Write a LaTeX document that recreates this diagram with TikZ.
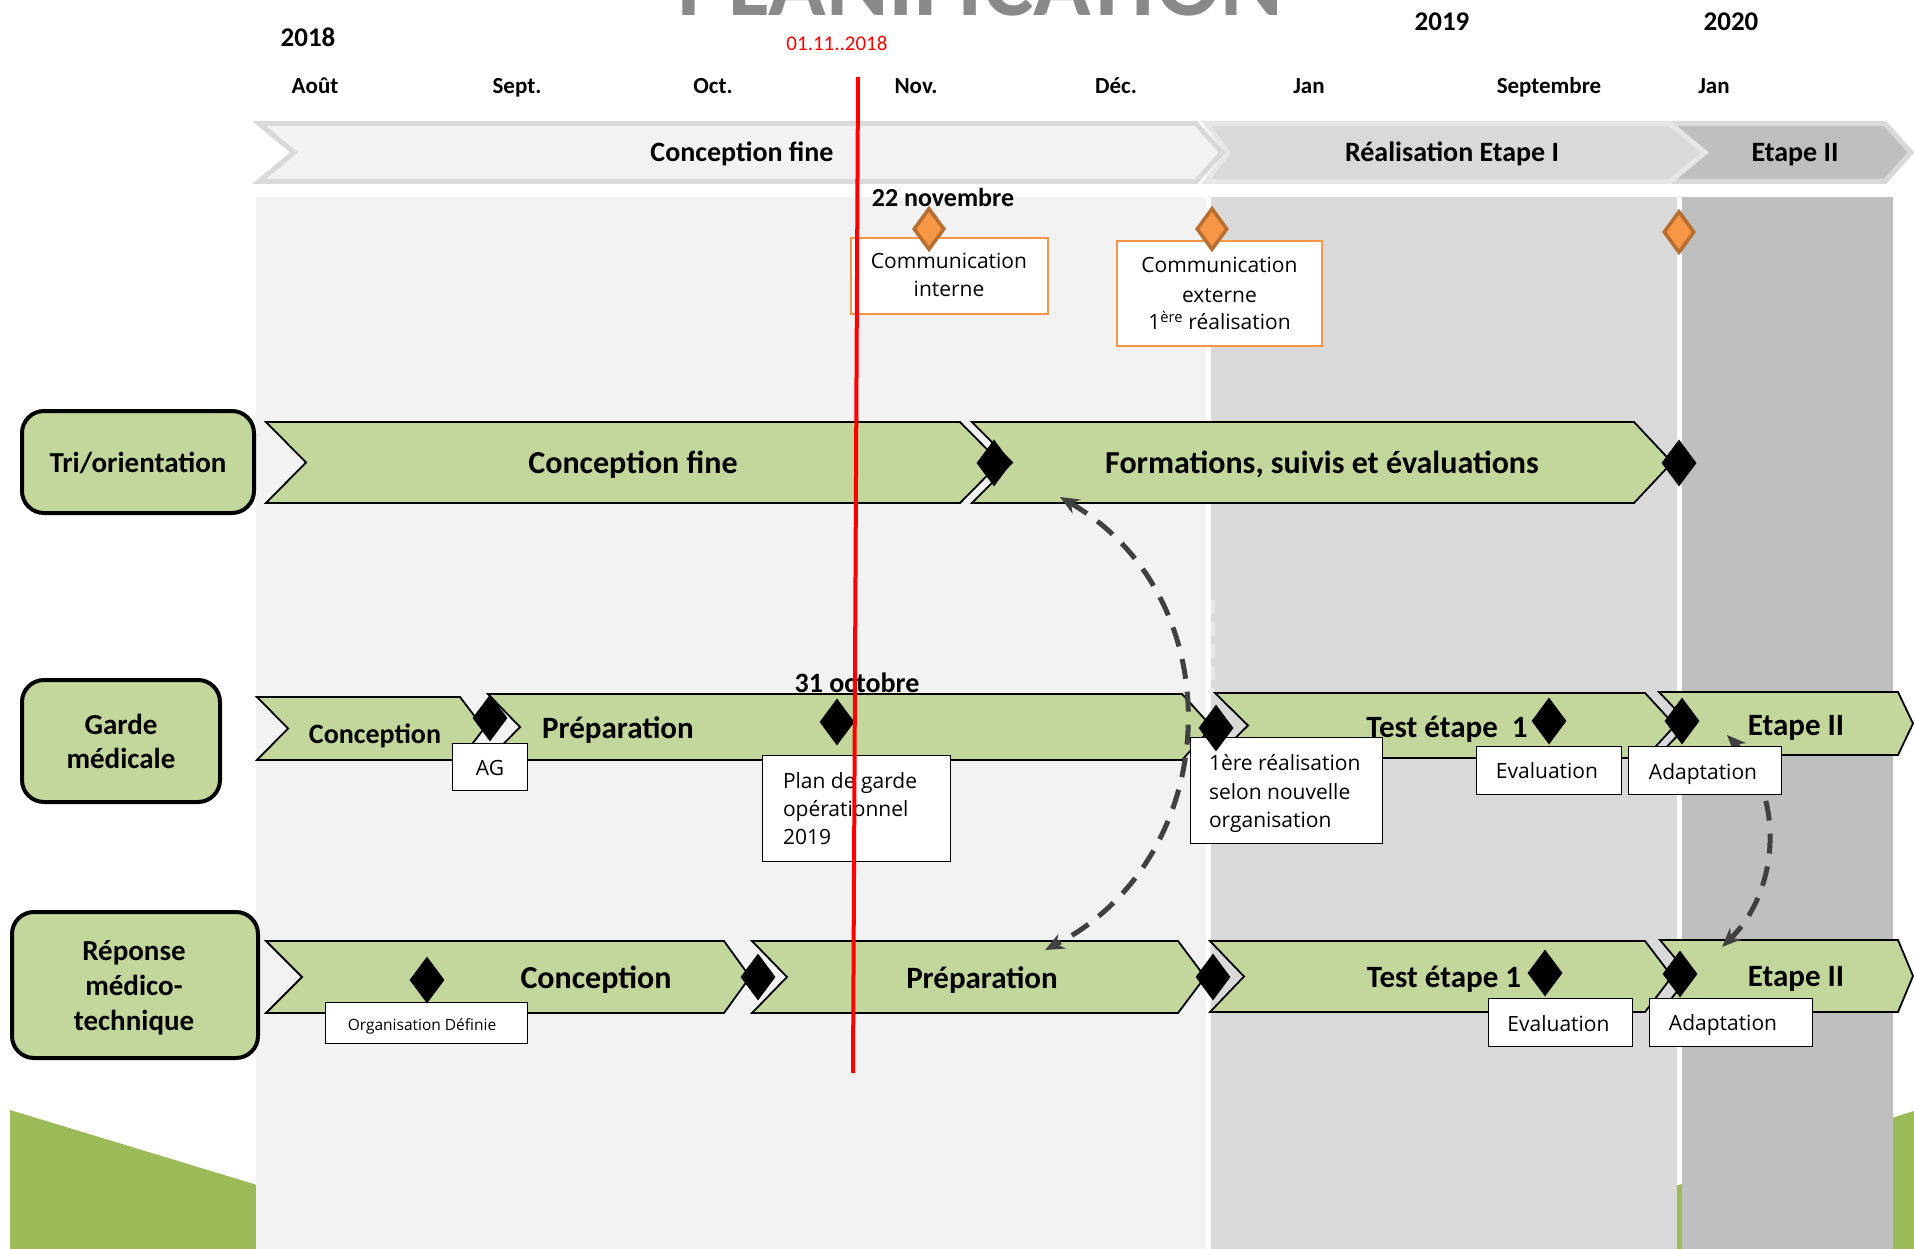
\documentclass[tikz,border=0pt]{standalone}
\usepackage{fontspec}
\usepackage{graphicx}
\setmainfont{Carlito}
\newfontfamily\osans{Open Sans}
\usetikzlibrary{shapes.geometric,arrows.meta}
\definecolor{lgray}{HTML}{F2F2F2}
\definecolor{mgray}{HTML}{D9D9D9}
\definecolor{dgray}{HTML}{BFBFBF}
\definecolor{hdrtwo}{HTML}{E6E6E6}
\definecolor{chgreen}{HTML}{C3D69B}
\definecolor{hill}{HTML}{9BBB59}
\definecolor{orfill}{HTML}{F79646}
\definecolor{ordraw}{HTML}{B86E30}
\definecolor{arcgray}{HTML}{404040}
\definecolor{titlegray}{HTML}{898989}
\definecolor{fdash}{HTML}{E8E8E8}
\newcommand{\fsz}[1]{\fontsize{#1}{#1}\selectfont}
% #1 style, #2 x0, #3 x1, #4 ytop, #5 ybot, #6 left notch depth, #7 right tip depth
\newcommand{\chevpath}[7]{\path[#1] (#2,#4) -- ({#3-#7},#4) -- (#3,{(#4+#5)/2}) -- ({#3-#7},#5) -- (#2,#5) -- ({#2+#6},{(#4+#5)/2}) -- cycle;}
\begin{document}
\begin{tikzpicture}[x=1pt,y=-1pt,
  txt/.style={inner sep=0pt, outer sep=0pt, anchor=base},
  monthtxt/.style={txt, font=\fsz{23}\bfseries},
  yeartxt/.style={txt, font=\fsz{27}\bfseries},
  hdrtxt/.style={txt, font=\fsz{28}\bfseries},
  chtxt/.style={txt, font=\fsz{31}\bfseries},
  labtxt/.style={txt, font=\fsz{29}\bfseries},
  datetxt/.style={txt, font=\fsz{27}\bfseries},
  boxtxt/.style={txt, font=\osans\fsz{21}},
  hdr/.style={line width=5pt, line join=miter},
  chev/.style={fill=chgreen, draw=black, line width=1.8pt, line join=miter},
  lab/.style={draw=black, fill=chgreen, line width=4pt, rounded corners=22pt, inner sep=0pt},
  wbox/.style={draw=black, fill=white, line width=1.6pt, inner sep=0pt},
  obox/.style={draw=orfill, fill=white, line width=2.8pt, inner sep=0pt},
  bdia/.style={diamond, fill=black, inner sep=0pt, minimum width=35pt, minimum height=47pt},
  odia/.style={diamond, fill=orfill, draw=ordraw, line width=3.5pt, inner sep=0pt, minimum width=31pt, minimum height=42pt},
  dasharc/.style={draw=arcgray, line width=5pt, dash pattern=on 20pt off 13pt,
    arrows={Stealth[length=19pt,width=16pt]-Stealth[length=19pt,width=16pt]}},
]
\useasboundingbox (0,0) rectangle (1914,1249);
\fill[white] (0,0) rectangle (1914,1249);

% decorative green hills
\fill[hill] (10,1110) -- (300,1198) -- (300,1249) -- (10,1249) -- cycle;
\fill[hill] (1500,1241) -- (1914,1111) -- (1914,1249) -- (1500,1249) -- cycle;

% period columns
\fill[lgray] (256,197) rectangle (1206,1249);
\fill[mgray] (1211,197) rectangle (1677,1249);
\fill[dgray] (1682,197) rectangle (1893,1249);
\draw[draw=fdash, line width=4pt, dash pattern=on 14pt off 8pt] (1213,600) -- (1213,695);

% title (cut by the top edge)
\node[txt, text=titlegray, font=\bfseries] (title) at (980.5,16) {\resizebox{605pt}{!}{PLANIFICATION}};

% years and months
\node[yeartxt] (y18) at (308,47) {2018};
\node[yeartxt] (y19) at (1442,31) {2019};
\node[yeartxt] (y20) at (1731,31) {2020};
\node[txt, text=red, font=\fsz{21}] (today) at (837,50.5) {01.11..2018};
\node[monthtxt] (m1) at (315,94) {Août};
\node[monthtxt] (m2) at (517,94) {Sept.};
\node[monthtxt] (m3) at (713,94) {Oct.};
\node[monthtxt] (m4) at (916,94) {Nov.};
\node[monthtxt] (m5) at (1116,94) {Déc.};
\node[monthtxt] (m6) at (1309,94) {Jan};
\node[monthtxt] (m7) at (1549,94) {Septembre};
\node[monthtxt] (m8) at (1714,94) {Jan};

% header phases
\chevpath{hdr, fill=dgray, draw=mgray}{1672}{1911}{123.5}{181.5}{26}{26}
\chevpath{hdr, fill=mgray, draw=hdrtwo}{1206}{1705}{123.5}{181.5}{22}{35}
\chevpath{hdr, fill=lgray, draw=mgray}{259}{1222}{123.5}{181.5}{35}{26}
\node[hdrtxt] (h1) at (742,162) {Conception fine};
\node[hdrtxt] (h2) at (1452,162) {Réalisation Etape I};
\node[hdrtxt] (h3) at (1795,162) {Etape II};

% row labels
\node[lab, minimum width=232pt, minimum height=102pt] (lTri) at (138,462) {};
\node[lab, minimum width=198pt, minimum height=122pt] (lGarde) at (121,741) {};
\node[lab, minimum width=246pt, minimum height=146pt] (lRep) at (135,985) {};
\node[labtxt] (tTri) at (138,472) {Tri/orientation};
\node[labtxt] (tGa1) at (121,734) {Garde};
\node[labtxt] (tGa2) at (121,768) {médicale};
\node[labtxt] (tRe1) at (134,960) {Réponse};
\node[labtxt] (tRe2) at (134,995) {médico-};
\node[labtxt] (tRe3) at (134,1030) {technique};

% row 1 chevrons
\chevpath{chev}{266}{1000}{422}{503}{40}{40}
\chevpath{chev}{972}{1672}{422}{503}{40}{38}
\node[chtxt, font=\fsz{32}\bfseries] (cA) at (633,473) {Conception fine};
\node[chtxt, font=\fsz{32}\bfseries] (cB) at (1322,473) {Formations, suivis et évaluations};

% row 2 chevrons
\chevpath{chev}{257}{484}{697}{760}{31}{24}
\chevpath{chev}{488}{1212}{694}{760}{32}{30}
\chevpath{chev}{1215}{1675}{693}{758}{33}{30}
\chevpath{chev}{1659}{1913}{692}{755}{30}{15}
\node[chtxt, font=\fsz{28}\bfseries] (cC) at (375,743) {Conception};
\node[chtxt] (cD) at (618,738) {Préparation};
\node[chtxt] (cE) at (1447,737) {Test étape~~1};
\node[chtxt] (cF) at (1796,735) {Etape II};

% row 3 chevrons
\chevpath{chev}{266}{750}{941}{1013}{36}{26}
\chevpath{chev}{752}{1205}{941}{1013}{35}{27}
\chevpath{chev}{1210}{1672}{941}{1012}{34}{27}
\chevpath{chev}{1660}{1913}{940}{1012}{30}{15}
\node[chtxt, font=\fsz{32}\bfseries] (cG) at (596,988) {Conception};
\node[chtxt] (cH) at (982,988) {Préparation};
\node[chtxt] (cI) at (1444,987) {Test étape 1};
\node[chtxt] (cJ) at (1796,986) {Etape II};

% dated milestones text
\node[datetxt, font=\fsz{26}\bfseries] (d22) at (943,207) {22 novembre};
\node[datetxt, font=\fsz{28}\bfseries] (d31) at (857,692) {31 octobre};

% dashed feedback arcs
\coordinate (a1s) at (1060,497);
\coordinate (a1c) at (1235,598);
\coordinate (a1d) at (1225,858);
\coordinate (a1e) at (1045,950);
\draw[dasharc] (a1s) .. controls (a1c) and (a1d) .. (a1e);
\coordinate (a2s) at (1727,735);
\coordinate (a2c) at (1784,794);
\coordinate (a2d) at (1781,889);
\coordinate (a2e) at (1722,947);
\draw[dasharc] (a2s) .. controls (a2c) and (a2d) .. (a2e);

% communication boxes
\node[obox, minimum width=197pt, minimum height=76pt] (bCI) at (949.5,276) {};
\node[obox, minimum width=205pt, minimum height=105pt] (bCE) at (1219.5,293.5) {};
\node[boxtxt] (tCI1) at (949,269) {Communication};
\node[boxtxt] (tCI2) at (949,297) {interne};
\node[boxtxt] (tCE1) at (1219.5,273) {Communication};
\node[boxtxt] (tCE2) at (1219.5,302) {externe};
\node[boxtxt] (tCE3) at (1219.5,330) {1\textsuperscript{ère} réalisation};

% white label boxes
\node[wbox, minimum width=75pt, minimum height=47pt] (bAG) at (490,767) {};
\node[wbox, minimum width=188pt, minimum height=106pt] (bPlan) at (856.5,808.5) {};
\node[wbox, minimum width=192pt, minimum height=106pt] (bReal) at (1286.5,790.5) {};
\node[wbox, minimum width=145pt, minimum height=48pt] (bEv2) at (1549,770.5) {};
\node[wbox, minimum width=153pt, minimum height=48pt] (bAd2) at (1705,770.5) {};
\node[wbox, minimum width=202pt, minimum height=41pt] (bOrg) at (426.5,1023) {};
\node[wbox, minimum width=144pt, minimum height=48pt] (bEv3) at (1560.5,1022.5) {};
\node[wbox, minimum width=163pt, minimum height=48pt] (bAd3) at (1731,1022.5) {};
\node[boxtxt] (tAG) at (490,775) {AG};
\node[boxtxt, anchor=base west] (tPl1) at (783,788) {Plan de garde};
\node[boxtxt, anchor=base west] (tPl2) at (783,816) {opérationnel};
\node[boxtxt, anchor=base west] (tPl3) at (783,844) {2019};
\node[boxtxt, anchor=base west] (tRe1b) at (1209,770) {1ère réalisation};
\node[boxtxt, anchor=base west] (tRe2b) at (1209,799) {selon nouvelle};
\node[boxtxt, anchor=base west] (tRe3b) at (1209,827) {organisation};
\node[boxtxt] (tEv2) at (1547,778) {Evaluation};
\node[boxtxt] (tAd2) at (1703,779) {Adaptation};
\node[boxtxt, font=\osans\fsz{15.5}] (tOrg) at (422,1030) {Organisation Définie};
\node[boxtxt] (tEv3) at (1558.5,1031) {Evaluation};
\node[boxtxt] (tAd3) at (1723,1030) {Adaptation};

% milestones
\node[odia] (o1) at (929,229) {};
\node[odia] (o2) at (1212,229) {};
\node[odia] (o3) at (1679,232) {};
\node[bdia] (k1) at (994,463) {};
\node[bdia] (k2) at (1679,463) {};
\node[bdia] (k3) at (490,718) {};
\node[bdia] (k4) at (837,722) {};
\node[bdia] (k5) at (1216,728) {};
\node[bdia] (k6) at (1549,721) {};
\node[bdia] (k7) at (1682,721) {};
\node[bdia] (k8) at (427,980) {};
\node[bdia] (k9) at (758,977) {};
\node[bdia] (k10) at (1213,977) {};
\node[bdia] (k11) at (1545,973) {};
\node[bdia] (k12) at (1680,974) {};

% today line
\coordinate (rtop) at (858,77);
\coordinate (rbot) at (853,1073);
\draw[red, line width=4pt] (rtop) -- (rbot);
\end{tikzpicture}
\end{document}
